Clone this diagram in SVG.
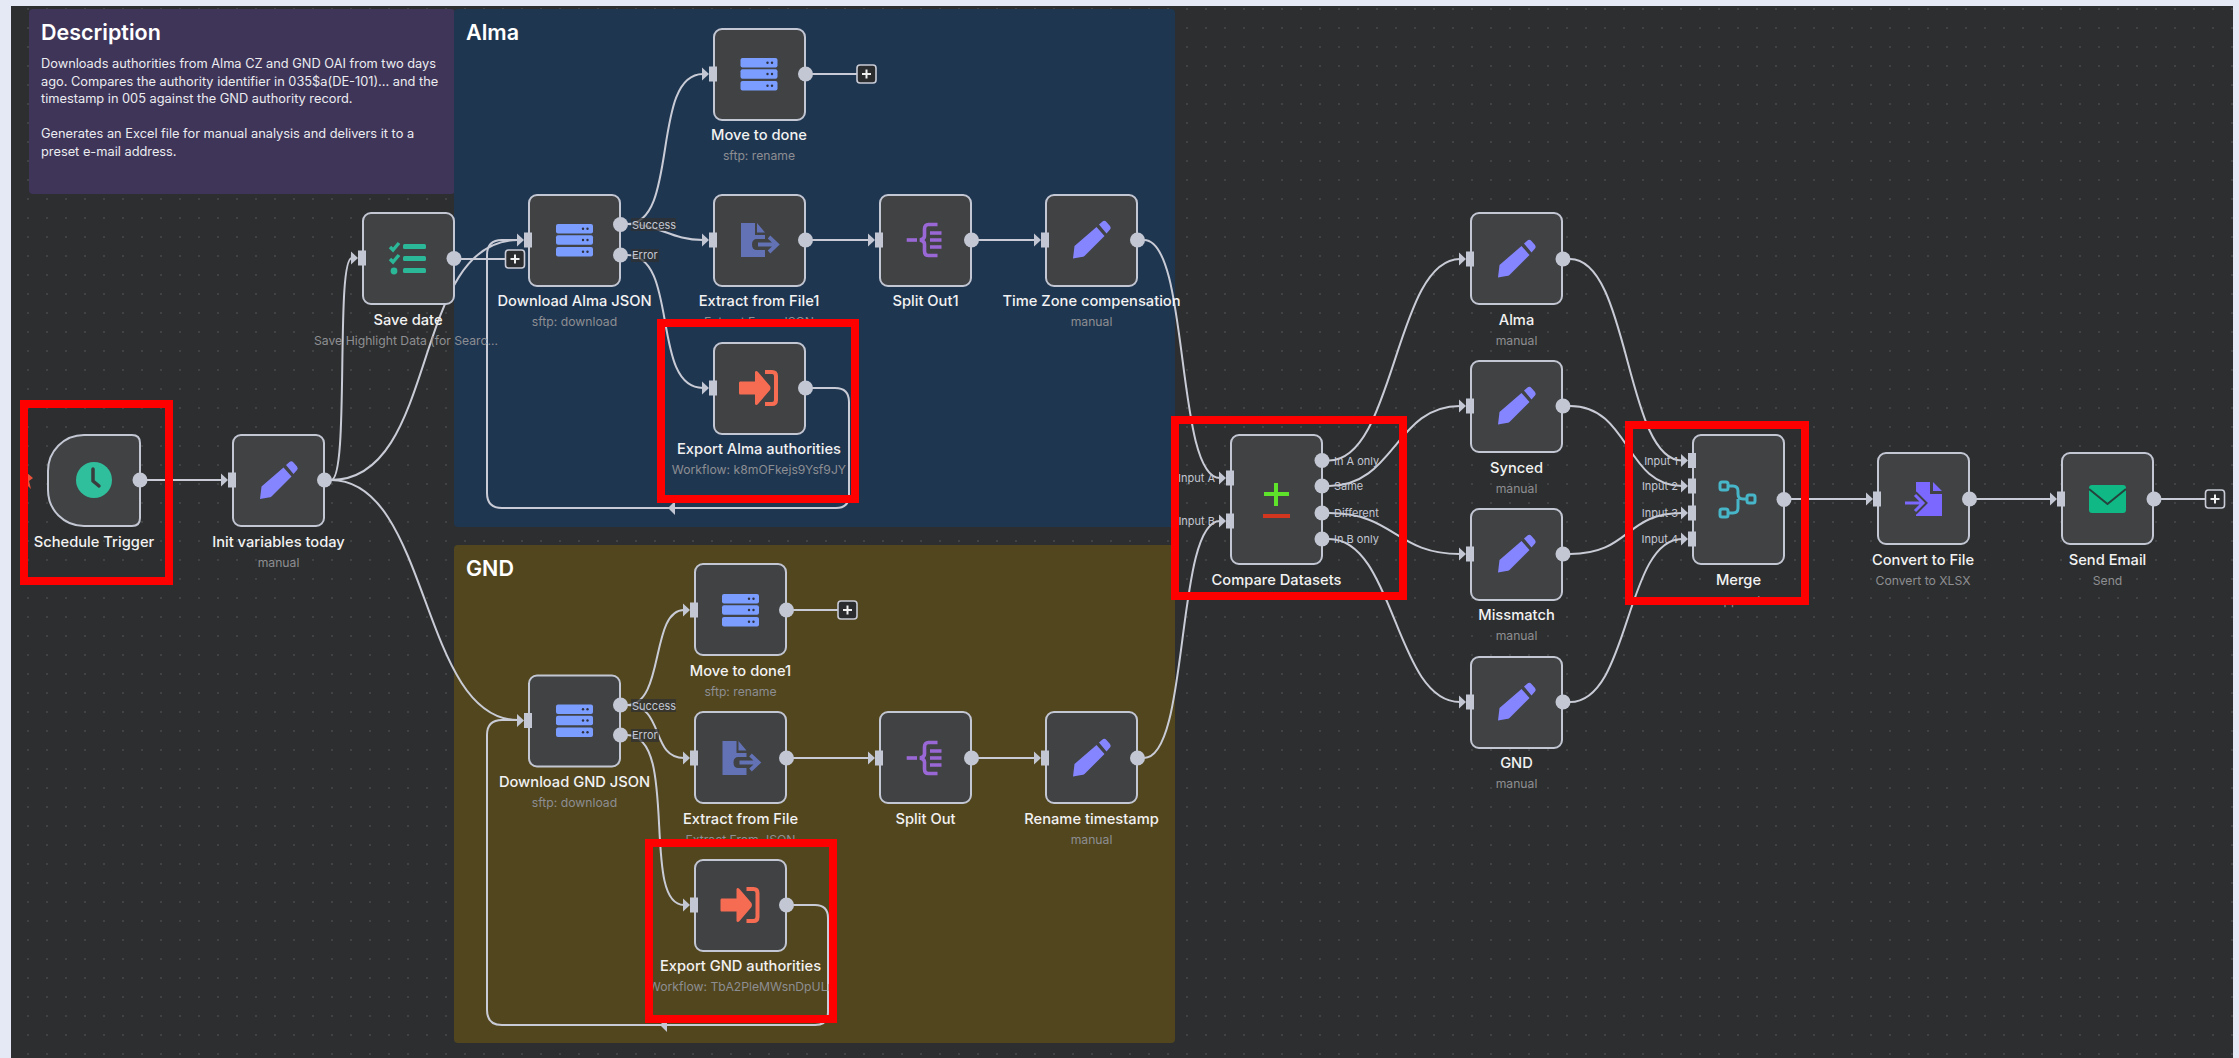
<svg xmlns="http://www.w3.org/2000/svg" width="2239" height="1058" viewBox="0 0 2239 1058">
<style>
text{font-family:Inter,"Noto Sans","Liberation Sans",sans-serif}
.n{fill:#414244;stroke:#c3c7d3;stroke-width:2}
.t{fill:#f2f2f2;font-size:14.7px;font-weight:500;text-anchor:middle}
.s{fill:#8d8e92;font-size:12.2px;text-anchor:middle}
.p{fill:#c3c7d3;font-size:11px}
.pe{text-anchor:end}
.h{fill:#fff;font-size:21.5px;font-weight:600}
.b{fill:#ececf0;font-size:12.8px}
.c{fill:none;stroke:#c9ccd6;stroke-width:2}
.o{fill:#c3c7d3}
.r{fill:none;stroke:#f00;stroke-width:8}
.pl{fill:#2b2c2e;stroke:#c9ccd6;stroke-width:1.6}
.pm{stroke:#f0f0f0;stroke-width:2}
.lb{fill:#2f3032;opacity:.75}
</style>
<defs>
<pattern id="dots" width="19" height="19" patternUnits="userSpaceOnUse"><circle cx="9" cy="9" r=".8" fill="#5a5b5d"/></pattern>
<g id="in"><path d="M-10,-6.500 L-3,0 L-10,6.500Z" fill="#c3c7d3"/><rect x="-3" y="-7.500" width="8" height="15" fill="#c3c7d3"/></g>
<g id="srv"><rect x="-18.500" y="-16" width="37" height="9.500" rx="2" fill="#7a9dff"/><rect x="-18.500" y="-4.700" width="37" height="9.500" rx="2" fill="#7a9dff"/><rect x="-18.500" y="7" width="37" height="9.500" rx="2" fill="#7a9dff"/><g fill="#2e3140"><circle cx="8.500" cy="-11.200" r="1.200"/><circle cx="13" cy="-11.200" r="1.200"/><circle cx="8.500" cy="0" r="1.200"/><circle cx="13" cy="0" r="1.200"/><circle cx="8.500" cy="11.700" r="1.200"/><circle cx="13" cy="11.700" r="1.200"/></g></g>
<g id="pen" fill="#8585ff"><path d="M-18.500,18.500 L-17,6 L5,-13 L13,-4 L-7,16 Q-8,17 -10,17Z"/><path d="M7.500,-15.500 L11,-18.500 Q13,-20 15,-18 L18.500,-14 Q20,-12 18.500,-10.500 L15,-6.500Z"/></g>
<g id="ext"><path d="M-18,-17 H-4 V-5 H6 V-1 H-2 Q-7,-1 -7,4.500 Q-7,10 -2,10 H6 V17 H-18Z" fill="#6272b5"/><path d="M-2,-17 L6,-7.500 H-2Z" fill="#6272b5"/><path d="M-1,4.500 H15 M10,-3 L18,4.500 L10,12" fill="none" stroke="#6272b5" stroke-width="3.800"/></g>
<g id="spl" fill="none" stroke="#9a68d6" stroke-width="3.600"><path d="M-18.800,0 H-8.500"/><path d="M12,-15.500 H3 Q-1,-15.500 -1,-11 V-4 Q-1,-1 -5.500,0 Q-1,1 -1,4 V11 Q-1,15.500 3,15.500 H12"/><path d="M4.500,-7 H16 M4.500,0 H16 M4.500,7 H16"/></g>
<g id="exp"><path d="M-19,-6.500 H-4 V-16 Q-3,-18 -1,-16 L11,-2 Q12,0 11,2 L-1,16 Q-3,18 -4,16 V6.500 H-19 Q-20,6.500 -20,5 V-5 Q-20,-6.500 -19,-6.500Z" fill="#f66c52"/><path d="M6,-16 H13 Q17,-16 17,-12 V12 Q17,16 13,16 H6" fill="none" stroke="#f66c52" stroke-width="4"/></g>
</defs>
<rect width="2239" height="1058" fill="#e5e9f6"/>
<rect x="11" y="6" width="2222" height="1052" fill="#2d2e2f"/>
<rect x="11" y="6" width="2222" height="1052" fill="url(#dots)"/>
<g id="description"><rect x="29" y="9" width="426" height="185" rx="4" fill="#3e3559"/>
<text class="h" x="41" y="40">Description</text>
<text class="b" x="41" y="68">Downloads authorities from Alma CZ and GND OAI from two days</text>
<text class="b" x="41" y="86">ago. Compares the authority identifier in 035$a(DE-101)... and the</text>
<text class="b" x="41" y="103">timestamp in 005 against the GND authority record.</text>
<text class="b" x="41" y="138">Generates an Excel file for manual analysis and delivers it to a</text>
<text class="b" x="41" y="156">preset e-mail address.</text></g>
<g id="group-alma"><rect x="454" y="9" width="721" height="518" rx="4" fill="#1f3651"/><text class="h" x="466" y="40">Alma</text></g>
<g id="group-gnd"><rect x="454" y="545" width="721" height="498" rx="4" fill="#52461f"/><text class="h" x="466" y="576">GND</text></g>
<g id="connectors">
<path class="c" d="M147,480 H222"/>
<path class="c" d="M331,480 C350,480 335,258 352,258"/>
<path class="c" d="M331,480 C440,480 410,240 518,240"/>
<path class="c" d="M331,480 C430,480 420,720 518,720"/>
<path class="c" d="M461,259 H505"/>
<path class="c" d="M627,224 C680,224 650,74 703,74"/>
<path class="c" d="M627,224 C660,224 670,240 703,240"/>
<path class="c" d="M627,255 C680,255 650,388 703,388"/>
<path class="c" d="M812,388 H835 Q849,388 849,402 V495 Q849,508 836,508 H502 Q487,508 487,493 V255 Q487,240 502,240 H518"/>
<path class="c" d="M812,74 H857"/>
<path class="c" d="M812,240 H869"/>
<path class="c" d="M978,240 H1035"/>
<path class="c" d="M1144,240 C1190,240 1175,478 1220,478"/>
<path class="c" d="M627,705 C665,705 650,610 684,610"/>
<path class="c" d="M627,705 C665,705 650,758 684,758"/>
<path class="c" d="M627,735 C680,735 640,905 684,905"/>
<path class="c" d="M793,905 H815 Q828,905 828,918 V1012 Q828,1025 815,1025 H502 Q487,1025 487,1010 V735 Q487,720 502,720 H518"/>
<path class="c" d="M793,610 H838"/>
<path class="c" d="M793,758 H869"/>
<path class="c" d="M978,758 H1035"/>
<path class="c" d="M1144,758 C1190,758 1175,521 1220,521"/>
<path class="c" d="M1329,460.500 C1395,460.500 1395,259 1460,259"/>
<path class="c" d="M1329,486 C1395,486 1395,406 1460,406"/>
<path class="c" d="M1329,513 C1395,513 1395,554 1460,554"/>
<path class="c" d="M1329,539 C1395,539 1395,702 1460,702"/>
<path class="c" d="M1570,259 C1630,259 1625,460.500 1682,460.500"/>
<path class="c" d="M1570,406 C1630,406 1625,486 1682,486"/>
<path class="c" d="M1570,554 C1630,554 1625,513 1682,513"/>
<path class="c" d="M1570,702 C1630,702 1625,539 1682,539"/>
<path class="c" d="M1791,499 H1867"/>
<path class="c" d="M1976,499 H2051"/>
<path class="c" d="M2160,499 H2205"/>
<path d="M668,508 L675,501 V515Z" fill="#c3c7d3"/>
<path d="M660,1025 L667,1018 V1032Z" fill="#c3c7d3"/>
</g>
<g id="schedule-trigger"><path class="n" d="M84,435 H132 Q140,435 140,443 V518 Q140,526 132,526 H84 C64,526 48,510 48,490 V471 C48,451 64,435 84,435Z"/>
<circle cx="94" cy="480" r="18" fill="#30bf9c"/><path d="M93,469 V481 L99,486" fill="none" stroke="#3a3b3d" stroke-width="3.500" stroke-linecap="round" stroke-linejoin="round"/>
<circle class="o" cx="140" cy="480" r="7.500"/><path d="M26,472 L33,478 L29,481 L31,489 L26,484Z" fill="#e8523a"/>
<text class="t" x="94" y="547">Schedule Trigger</text></g>
<g id="init-variables"><rect class="n" x="233" y="435" width="91" height="91" rx="8"/><use href="#pen" x="278.500" y="480.500"/><use href="#in" x="231" y="480"/><circle class="o" cx="324.500" cy="480" r="7.500"/><text class="t" x="278.500" y="547">Init variables today</text><text class="s" x="278.500" y="567">manual</text></g>
<g id="save-date"><rect class="n" x="363" y="213" width="91" height="91" rx="8"/>
<g fill="#2bb898"><path d="M390,247 l3,3 l6,-7" fill="none" stroke="#2bb898" stroke-width="3.400"/><path d="M390,259 l3,3 l6,-7" fill="none" stroke="#2bb898" stroke-width="3.400"/><circle cx="394" cy="271" r="3.400"/><rect x="403" y="244" width="23" height="5" rx="1.500"/><rect x="403" y="256" width="23" height="5" rx="1.500"/><rect x="403" y="268" width="23" height="5" rx="1.500"/></g>
<use href="#in" x="361" y="258"/><circle class="o" cx="454" cy="258.500" r="7.500"/><text class="t" x="408" y="325">Save date</text><text class="s" x="406" y="345">Save Highlight Data (for Searc...</text>
<rect class="pl" x="505.500" y="250" width="19" height="18" rx="3"/><path class="pm" d="M515,254.500 V263.500 M510.500,259 H519.500"/></g>
<g id="download-alma"><rect class="n" x="529" y="195" width="91" height="91" rx="8"/><use href="#srv" x="574.500" y="240"/><use href="#in" x="527" y="240"/><circle class="o" cx="620.500" cy="224.500" r="7.500"/><circle class="o" cx="620.500" cy="255" r="7.500"/><rect class="lb" x="631" y="218" width="45" height="13"/><rect class="lb" x="631" y="249" width="28" height="13"/><text class="p" x="632" y="228.500">Success</text><text class="p" x="632" y="259">Error</text><text class="t" x="574.500" y="306">Download Alma JSON</text><text class="s" x="574.500" y="326">sftp: download</text></g>
<g id="move-to-done"><rect class="n" x="714" y="29" width="91" height="91" rx="8"/><use href="#srv" x="759" y="74"/><use href="#in" x="712" y="74"/><circle class="o" cx="805.500" cy="74" r="7.500"/><rect class="pl" x="857" y="65" width="19" height="18" rx="3"/><path class="pm" d="M866.500,69.500 V78.500 M862,74 H871"/><text class="t" x="759" y="140">Move to done</text><text class="s" x="759" y="160">sftp: rename</text></g>
<g id="extract-file1"><rect class="n" x="714" y="195" width="91" height="91" rx="8"/><use href="#ext" x="759" y="240"/><use href="#in" x="712" y="240"/><circle class="o" cx="805.500" cy="240" r="7.500"/><text class="t" x="759" y="306">Extract from File1</text><text class="s" x="759" y="326">Extract From JSON</text></g>
<g id="split-out1"><rect class="n" x="880" y="195" width="91" height="91" rx="8"/><use href="#spl" x="925.500" y="240"/><use href="#in" x="878" y="240"/><circle class="o" cx="971.500" cy="240" r="7.500"/><text class="t" x="925.500" y="306">Split Out1</text></g>
<g id="time-zone"><rect class="n" x="1046" y="195" width="91" height="91" rx="8"/><use href="#pen" x="1091.500" y="240"/><use href="#in" x="1044" y="240"/><circle class="o" cx="1137.500" cy="240" r="7.500"/><text class="t" x="1091.500" y="306">Time Zone compensation</text><text class="s" x="1091.500" y="326">manual</text></g>
<g id="export-alma"><rect class="n" x="714" y="343" width="91" height="91" rx="8"/><use href="#exp" x="759" y="388"/><use href="#in" x="712" y="388"/><circle class="o" cx="805.500" cy="388" r="7.500"/><text class="t" x="759" y="454">Export Alma authorities</text><text class="s" x="759" y="474">Workflow: k8mOFkejs9Ysf9JY</text></g>
<g id="download-gnd"><rect class="n" x="529" y="675.500" width="91" height="91" rx="8"/><use href="#srv" x="574.500" y="720.500"/><use href="#in" x="527" y="720.500"/><circle class="o" cx="620.500" cy="705" r="7.500"/><circle class="o" cx="620.500" cy="735" r="7.500"/><rect class="lb" x="631" y="699" width="45" height="13"/><rect class="lb" x="631" y="729" width="28" height="13"/><text class="p" x="632" y="709.500">Success</text><text class="p" x="632" y="739">Error</text><text class="t" x="574.500" y="787">Download GND JSON</text><text class="s" x="574.500" y="807">sftp: download</text></g>
<g id="move-to-done1"><rect class="n" x="695" y="564" width="91" height="91" rx="8"/><use href="#srv" x="740.500" y="610"/><use href="#in" x="693" y="610"/><circle class="o" cx="786.500" cy="610" r="7.500"/><rect class="pl" x="838" y="601" width="19" height="18" rx="3"/><path class="pm" d="M847.500,605.500 V614.500 M843,610 H852"/><text class="t" x="740.500" y="676">Move to done1</text><text class="s" x="740.500" y="696">sftp: rename</text></g>
<g id="extract-file"><rect class="n" x="695" y="712" width="91" height="91" rx="8"/><use href="#ext" x="740.500" y="758"/><use href="#in" x="693" y="758"/><circle class="o" cx="786.500" cy="758" r="7.500"/><text class="t" x="740.500" y="824">Extract from File</text><text class="s" x="740.500" y="844">Extract From JSON</text></g>
<g id="split-out"><rect class="n" x="880" y="712" width="91" height="91" rx="8"/><use href="#spl" x="925.500" y="758"/><use href="#in" x="878" y="758"/><circle class="o" cx="971.500" cy="758" r="7.500"/><text class="t" x="925.500" y="824">Split Out</text></g>
<g id="rename-timestamp"><rect class="n" x="1046" y="712" width="91" height="91" rx="8"/><use href="#pen" x="1091.500" y="758"/><use href="#in" x="1044" y="758"/><circle class="o" cx="1137.500" cy="758" r="7.500"/><text class="t" x="1091.500" y="824">Rename timestamp</text><text class="s" x="1091.500" y="844">manual</text></g>
<g id="export-gnd"><rect class="n" x="695" y="860" width="91" height="91" rx="8"/><use href="#exp" x="740.500" y="905"/><use href="#in" x="693" y="905"/><circle class="o" cx="786.500" cy="905" r="7.500"/><text class="t" x="740.500" y="971">Export GND authorities</text><text class="s" x="740.500" y="991">Workflow: TbA2PleMWsnDpULr</text></g>
<g id="compare"><rect class="n" x="1231" y="435" width="91" height="129" rx="8"/><path d="M1276,483 V506 M1264,494 H1289" stroke="#5fe32a" stroke-width="4" fill="none"/><rect x="1263" y="514" width="27" height="4" fill="#d2361f"/>
<use href="#in" x="1229" y="478"/><use href="#in" x="1229" y="521"/><circle class="o" cx="1322" cy="460.500" r="7.500"/><circle class="o" cx="1322" cy="486" r="7.500"/><circle class="o" cx="1322" cy="513" r="7.500"/><circle class="o" cx="1322" cy="539" r="7.500"/>
<text class="p pe" x="1215" y="482">Input A</text><text class="p pe" x="1215" y="525">Input B</text><text class="p" x="1334" y="464.500">In A only</text><text class="p" x="1334" y="490">Same</text><text class="p" x="1334" y="517">Different</text><text class="p" x="1334" y="543">In B only</text>
<text class="t" x="1276.500" y="585">Compare Datasets</text></g>
<g id="alma-set"><rect class="n" x="1471" y="213" width="91" height="91" rx="8"/><use href="#pen" x="1516.500" y="259"/><use href="#in" x="1469" y="259"/><circle class="o" cx="1563" cy="259" r="7.500"/><text class="t" x="1516.500" y="325">Alma</text><text class="s" x="1516.500" y="345">manual</text></g>
<g id="synced"><rect class="n" x="1471" y="361" width="91" height="91" rx="8"/><use href="#pen" x="1516.500" y="406"/><use href="#in" x="1469" y="406"/><circle class="o" cx="1563" cy="406" r="7.500"/><text class="t" x="1516.500" y="473">Synced</text><text class="s" x="1516.500" y="493">manual</text></g>
<g id="missmatch"><rect class="n" x="1471" y="509" width="91" height="91" rx="8"/><use href="#pen" x="1516.500" y="554"/><use href="#in" x="1469" y="554"/><circle class="o" cx="1563" cy="554" r="7.500"/><text class="t" x="1516.500" y="620">Missmatch</text><text class="s" x="1516.500" y="640">manual</text></g>
<g id="gnd-set"><rect class="n" x="1471" y="657" width="91" height="91" rx="8"/><use href="#pen" x="1516.500" y="702"/><use href="#in" x="1469" y="702"/><circle class="o" cx="1563" cy="702" r="7.500"/><text class="t" x="1516.500" y="768">GND</text><text class="s" x="1516.500" y="788">manual</text></g>
<g id="merge"><rect class="n" x="1693" y="435" width="91" height="129" rx="8"/><g fill="none" stroke="#47b6c9" stroke-width="3"><rect x="1720" y="482" width="8" height="8" rx="2"/><rect x="1720" y="509" width="8" height="8" rx="2"/><rect x="1747" y="495" width="8" height="8" rx="2"/><path d="M1728,486 H1733 Q1738,486 1738,491 V494 Q1738,499 1743,499 H1747 M1738,499 V508 Q1738,513 1733,513 H1728"/></g>
<use href="#in" x="1691" y="460.500"/><use href="#in" x="1691" y="486"/><use href="#in" x="1691" y="513"/><use href="#in" x="1691" y="539"/><circle class="o" cx="1784" cy="499.500" r="7.500"/>
<text class="p pe" x="1678" y="464.500">Input 1</text><text class="p pe" x="1678" y="490">Input 2</text><text class="p pe" x="1678" y="517">Input 3</text><text class="p pe" x="1678" y="543">Input 4</text>
<text class="t" x="1738.500" y="585">Merge</text><text class="s" x="1738.500" y="605">append</text></g>
<g id="convert"><rect class="n" x="1878" y="453" width="91" height="91" rx="8"/><path d="M1916,482 H1930 V494 H1942 V516 H1916Z" fill="#7b68ff"/><path d="M1933,482 L1942,491 H1933Z" fill="#7b68ff"/><path d="M1904,503 H1922 M1914,494 L1923,503 L1914,512" fill="none" stroke="#414244" stroke-width="7"/><path d="M1905,503 H1922 M1915,495 L1923,503 L1915,511" fill="none" stroke="#7b68ff" stroke-width="3"/><use href="#in" x="1876" y="499"/><circle class="o" cx="1969.500" cy="499" r="7.500"/><text class="t" x="1923" y="565">Convert to File</text><text class="s" x="1923" y="585">Convert to XLSX</text></g>
<g id="send-email"><rect class="n" x="2062" y="453" width="91" height="91" rx="8"/><rect x="2089" y="485" width="37" height="28" rx="3" fill="#0fb885"/><path d="M2089,489 L2107.500,504 L2126,489" fill="none" stroke="#25423c" stroke-width="2"/><use href="#in" x="2060" y="499"/><circle class="o" cx="2154" cy="499" r="7.500"/><rect class="pl" x="2205.500" y="490" width="19" height="18" rx="3"/><path class="pm" d="M2215,494.500 V503.500 M2210.500,499 H2219.500"/><text class="t" x="2107.500" y="565">Send Email</text><text class="s" x="2107.500" y="585">Send</text></g>
<g id="highlights">
<rect class="r" x="24" y="404" width="145" height="177"/>
<rect class="r" x="661" y="323" width="194" height="176"/>
<rect class="r" x="649" y="843" width="184" height="176"/>
<rect class="r" x="1175" y="420" width="228" height="176"/>
<rect class="r" x="1629" y="425" width="176" height="176"/>
</g>
</svg>
